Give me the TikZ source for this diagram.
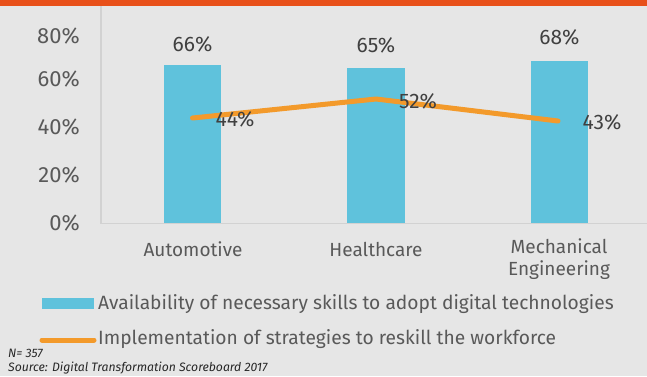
\documentclass[tikz,border=0pt]{standalone}
\usepackage{fontspec}
\setmainfont{Fira Sans}
\definecolor{bg}{HTML}{E6E6E6}
\definecolor{topbar}{HTML}{E8501A}
\definecolor{barblue}{HTML}{5FC2DC}
\definecolor{lineorange}{HTML}{F39A2B}
\definecolor{axisgray}{HTML}{D2D2D2}
\definecolor{txt}{HTML}{595959}
\definecolor{dtxt}{HTML}{404040}
\begin{document}
\begin{tikzpicture}[x=1pt,y=-1pt,
  axlab/.style={font=\fontsize{22}{24}\selectfont\color{txt},anchor=east,inner sep=0pt},
  catlab/.style={font=\fontsize{19}{22}\selectfont\color{txt},align=center,inner sep=0pt},
  vallab/.style={font=\fontsize{21}{23}\selectfont\color{dtxt},inner sep=0pt},
  leglab/.style={font=\fontsize{19.2}{21}\selectfont\color{txt},anchor=west,inner sep=0pt},
  trend/.style={draw=lineorange,line width=5pt,line cap=round,line join=round},
  notelab/.style={font=\fontsize{12.2}{14}\selectfont\itshape\color{black!85},anchor=west,inner sep=0pt}]
\useasboundingbox (0,0) rectangle (647,376);
\fill[bg] (0,0) rectangle (647,376);
\fill[topbar] (0,0) rectangle (647,6);
% axes
\draw[axisgray,line width=1.5pt] (101,6) -- (101,223.5) -- (647,223.5);
% y labels
\node[axlab] (y80) at (80,36) {80\%};
\node[axlab] (y60) at (80,79) {60\%};
\node[axlab] (y40) at (80,127) {40\%};
\node[axlab] (y20) at (80,175) {20\%};
\node[axlab] (y0) at (80,223) {0\%};
% bars
\fill[barblue] (164,65) rectangle (221,223);
\fill[barblue] (347,68) rectangle (405,223);
\fill[barblue] (531,61) rectangle (588,223);
\node[vallab] (v66) at (192.5,44) {66\%};
\node[vallab] (v65) at (376,45) {65\%};
\node[vallab] (v68) at (559.5,37) {68\%};
% line
\coordinate (p1) at (192.5,118);
\coordinate (p2) at (376,99);
\coordinate (p3) at (558,121);
\draw[trend] (p1) -- (p2) -- (p3);
\node[vallab] (l44) at (235,119) {44\%};
\node[vallab] (l52) at (418,101) {52\%};
\node[vallab] (l43) at (602,122) {43\%};
% categories
\node[catlab] (c1) at (193,249) {Automotive};
\node[catlab] (c2) at (376,249) {Healthcare};
\node[catlab,anchor=north] (c3) at (559,238) {Mechanical\\Engineering};
% legend
\fill[barblue] (42,298) rectangle (94,309);
\node[leglab] (lg1) at (98,304) {Availability of necessary skills to adopt digital technologies};
\coordinate (lgA) at (42,340);
\coordinate (lgB) at (94,340);
\draw[trend] (lgA) -- (lgB);
\node[leglab] (lg2) at (98,339) {Implementation of strategies to reskill the workforce};
\node[notelab] (n) at (8,353) {N= 357};
\node[notelab] (src) at (8,368) {Source: Digital Transformation Scoreboard 2017};
\end{tikzpicture}
\end{document}
